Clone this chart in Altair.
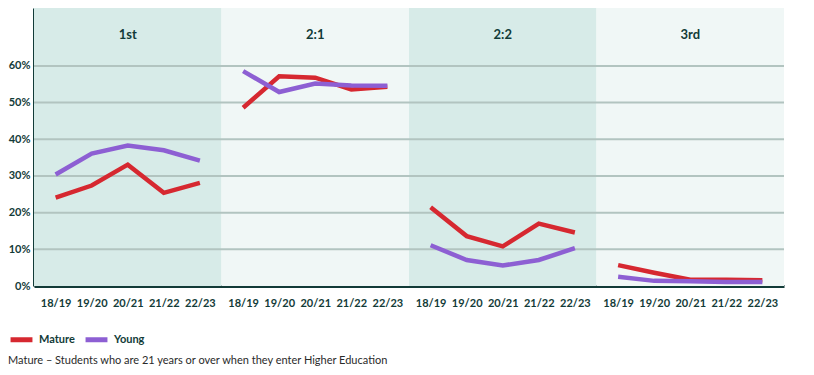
import altair as alt
import pandas as pd

grades = ["1st", "2:1", "2:2", "3rd"]
years = ["18/19", "19/20", "20/21", "21/22", "22/23"]
mature = {
    "1st": [24.1, 27.4, 33.1, 25.4, 28.1],
    "2:1": [48.6, 57.2, 56.8, 53.6, 54.3],
    "2:2": [21.5, 13.6, 10.8, 17.0, 14.6],
    "3rd": [5.7, 3.6, 1.7, 1.7, 1.6],
}
young = {
    "1st": [30.4, 36.1, 38.3, 37.0, 34.2],
    "2:1": [58.6, 52.9, 55.2, 54.7, 54.6],
    "2:2": [11.1, 7.1, 5.6, 7.1, 10.3],
    "3rd": [2.5, 1.4, 1.3, 1.1, 1.1],
}
y_ticks = [0, 0.1, 0.2, 0.3, 0.4, 0.5, 0.6]
caption = "Mature \u2013 Students who are 21 years or over when they enter Higher Education"

PW = 5.2  # panel width in x units
PAD = 0.6
FONT = "Lato"
DARK = "#123b38"

rows = []
for p, g in enumerate(grades):
    for i, yr in enumerate(years):
        rows.append({"grade": g, "year": yr, "group": "Mature", "value": mature[g][i] / 100, "pos": p * PW + PAD + i})
        rows.append({"grade": g, "year": yr, "group": "Young", "value": young[g][i] / 100, "pos": p * PW + PAD + i})
df = pd.DataFrame(rows)

bg = pd.DataFrame({
    "grade": grades,
    "x0": [p * PW for p in range(4)],
    "x1": [(p + 1) * PW for p in range(4)],
    "mid": [p * PW + PW / 2 for p in range(4)],
    "shade": ["dark", "light", "dark", "light"],
})
grid = pd.DataFrame({"v": y_ticks[1:]})
pos_vals = sorted(df["pos"].unique().tolist())

xscale = alt.Scale(domain=[0, 4 * PW], nice=False, zero=False)
yscale = alt.Scale(domain=[0, 0.758], nice=False)

label_expr = "['18/19','19/20','20/21','21/22','22/23'][round(datum.value - %s - floor(datum.value / %s) * %s)]" % (PAD, PW, PW)

xaxis = alt.Axis(
    values=pos_vals, labelExpr=label_expr, title=None, grid=False, ticks=False,
    labelOverlap=False, labelFont=FONT, labelFontWeight="bold", labelFontSize=11, labelColor=DARK,
    labelPadding=11, domainColor=DARK, domainWidth=3)
yaxis = alt.Axis(
    values=y_ticks, format=".0%", title=None, grid=False, ticks=False,
    labelFont=FONT, labelFontWeight="bold", labelFontSize=11, labelColor=DARK,
    labelPadding=4, domainColor=DARK, domainWidth=3)

rects = alt.Chart(bg).mark_rect().encode(
    x=alt.X("x0:Q", scale=xscale, axis=xaxis),
    x2="x1:Q",
    y=alt.value(0),
    y2=alt.value(278),
    color=alt.Color("shade:N", scale=alt.Scale(domain=["dark", "light"], range=["#d7ebe8", "#f0f7f6"]), legend=None),
)

rules = alt.Chart(grid).mark_rule(color="#b2c4c0", strokeWidth=2).encode(
    y=alt.Y("v:Q", scale=yscale, axis=yaxis),
)

titles = alt.Chart(bg).mark_text(font=FONT, fontSize=13, fontWeight="bold", color=DARK).encode(
    x=alt.X("mid:Q", scale=xscale, axis=xaxis),
    y=alt.value(27),
    text="grade:N",
)

lines = alt.Chart(df).mark_line(strokeWidth=4.5).encode(
    x=alt.X("pos:Q", scale=xscale, axis=xaxis),
    y=alt.Y("value:Q", scale=yscale, axis=yaxis),
    stroke=alt.Stroke("group:N", scale=alt.Scale(domain=["Mature", "Young"], range=["#d62830", "#8d5fd3"]),
                      legend=alt.Legend(title=None, orient="none", legendX=-26, legendY=318, direction="horizontal",
                                        symbolType="stroke", symbolStrokeWidth=5, symbolSize=480,
                                        labelFont=FONT, labelFontWeight="bold", labelFontSize=11,
                                        labelColor=DARK, columnPadding=0, labelOffset=4)),
    detail="grade:N",
    order="pos:Q",
)

cap = alt.Chart(pd.DataFrame({"t": [caption]})).mark_text(
    font=FONT, fontSize=11, color="#2a2a2a", align="left", baseline="middle"
).encode(x=alt.value(-26), y=alt.value(353), text="t:N")

chart = alt.layer(rects, rules, titles, lines, cap).resolve_scale(color="independent").properties(
    width=750, height=278, padding={"left": 0, "top": 0, "right": 0, "bottom": 0}
).configure_view(stroke=None).configure_axisX(labelOverlap=False)

chart.save("out.html", embed_options={"renderer": "svg", "actions": False})
